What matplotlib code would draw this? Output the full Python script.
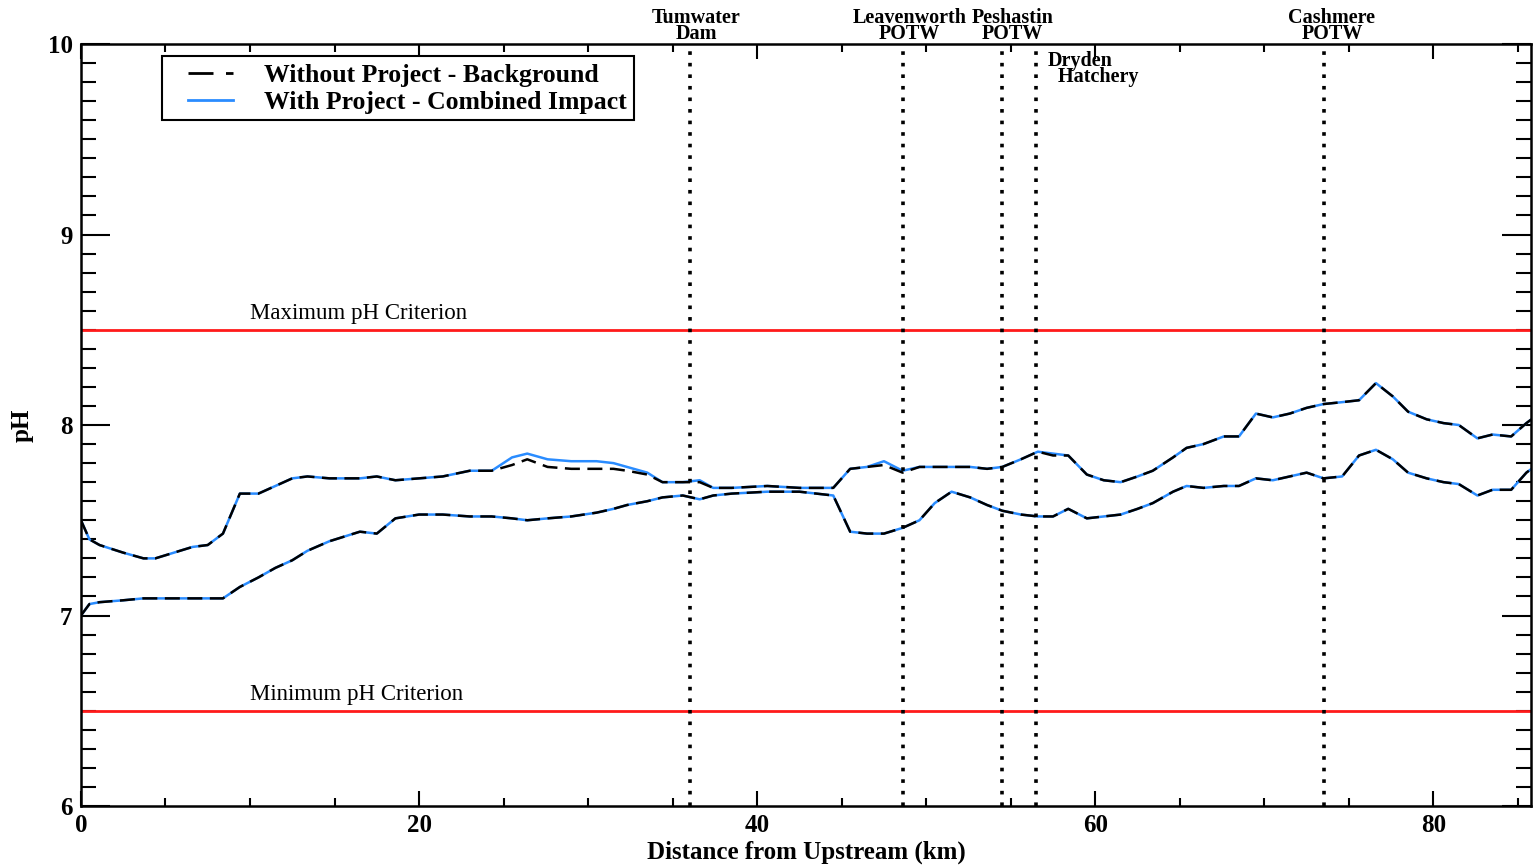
import matplotlib
matplotlib.use("Agg")
import matplotlib.pyplot as plt
from matplotlib.ticker import MultipleLocator
from matplotlib.lines import Line2D
from matplotlib.patches import Rectangle

plt.rcParams['font.family'] = ['Liberation Serif', 'DejaVu Serif']

# distance from upstream (km)
dist = [0, 0.5, 1.1, 2.5, 3.7, 4.4, 5.5, 6.6, 7.5, 8.4,
        9.4, 10.5, 11.5, 12.5, 13.4, 14.7, 16.5, 17.5, 18.6, 20.0,
        21.4, 23.0, 24.3, 25.5, 26.4, 27.6, 29.0, 30.5, 31.5, 32.3,
        33.5, 34.4, 35.6, 36.6, 37.4, 38.5, 40.6, 42.5, 44.5, 45.5,
        46.5, 47.5, 48.6, 49.6, 50.5, 51.5, 52.6, 53.6, 54.5, 55.6,
        56.6, 57.5, 58.4, 59.5, 60.5, 61.5, 62.5, 63.4, 64.6, 65.4,
        66.4, 67.6, 68.5, 69.5, 70.5, 71.5, 72.5, 73.5, 74.6, 75.6,
        76.6, 77.6, 78.5, 79.6, 80.6, 81.5, 82.6, 83.5, 84.6, 85.5,
        85.8]

proj_max = [7.50, 7.40, 7.37, 7.33, 7.30, 7.30, 7.33, 7.36, 7.37, 7.43,
            7.64, 7.64, 7.68, 7.72, 7.73, 7.72, 7.72, 7.73, 7.71, 7.72,
            7.73, 7.76, 7.76, 7.83, 7.85, 7.82, 7.81, 7.81, 7.80, 7.78,
            7.75, 7.70, 7.70, 7.71, 7.67, 7.67, 7.68, 7.67, 7.67, 7.77,
            7.78, 7.81, 7.76, 7.78, 7.78, 7.78, 7.78, 7.77, 7.78, 7.82,
            7.86, 7.85, 7.84, 7.74, 7.71, 7.70, 7.73, 7.76, 7.83, 7.88,
            7.90, 7.94, 7.94, 8.06, 8.04, 8.06, 8.09, 8.11, 8.12, 8.13,
            8.22, 8.15, 8.07, 8.03, 8.01, 8.00, 7.93, 7.95, 7.94, 8.01,
            8.03]

bg_max = [7.50, 7.40, 7.37, 7.33, 7.30, 7.30, 7.33, 7.36, 7.37, 7.43,
          7.64, 7.64, 7.68, 7.72, 7.73, 7.72, 7.72, 7.73, 7.71, 7.72,
          7.73, 7.76, 7.76, 7.79, 7.82, 7.78, 7.77, 7.77, 7.77, 7.76,
          7.74, 7.70, 7.70, 7.70, 7.67, 7.67, 7.68, 7.67, 7.67, 7.77,
          7.78, 7.79, 7.75, 7.78, 7.78, 7.78, 7.78, 7.77, 7.78, 7.82,
          7.86, 7.84, 7.84, 7.74, 7.71, 7.70, 7.73, 7.76, 7.83, 7.88,
          7.90, 7.94, 7.94, 8.06, 8.04, 8.06, 8.09, 8.11, 8.12, 8.13,
          8.22, 8.15, 8.07, 8.03, 8.01, 8.00, 7.93, 7.95, 7.94, 8.01,
          8.03]

proj_min = [7.00, 7.06, 7.07, 7.08, 7.09, 7.09, 7.09, 7.09, 7.09, 7.09,
            7.15, 7.20, 7.25, 7.29, 7.34, 7.39, 7.44, 7.43, 7.51, 7.53,
            7.53, 7.52, 7.52, 7.51, 7.50, 7.51, 7.52, 7.54, 7.56, 7.58,
            7.60, 7.62, 7.63, 7.61, 7.63, 7.64, 7.65, 7.65, 7.63, 7.44,
            7.43, 7.43, 7.46, 7.50, 7.59, 7.65, 7.62, 7.58, 7.55, 7.53,
            7.52, 7.52, 7.56, 7.51, 7.52, 7.53, 7.56, 7.59, 7.65, 7.68,
            7.67, 7.68, 7.68, 7.72, 7.71, 7.73, 7.75, 7.72, 7.73, 7.84,
            7.87, 7.82, 7.75, 7.72, 7.70, 7.69, 7.63, 7.66, 7.66, 7.75,
            7.77]

bg_min = list(proj_min)

max_crit = 8.5
min_crit = 6.5

site_x = [36.0, 48.6, 54.5, 56.5, 73.5]
site_names = ["Tumwater\nDam", "Leavenworth\nPOTW", "Peshastin\nPOTW", "Dryden\n  Hatchery", "Cashmere\nPOTW"]
label_x = [36.4, 49.0, 55.1, 57.2, 74.0]

series_labels = ["Without Project - Background", "With Project - Combined Impact"]

blue = '#2a8cff'

fig = plt.figure(figsize=(15.33, 8.68), dpi=100)
ax = fig.add_axes([0.0528, 0.0714, 0.9462, 0.8779])

ax.plot(dist, proj_max, color=blue, lw=1.8)
ax.plot(dist, proj_min, color=blue, lw=1.8)
ax.plot(dist, bg_max, color='black', lw=1.8, ls=(0, (6, 3)))
ax.plot(dist, bg_min, color='black', lw=1.8, ls=(0, (6, 3)))

ax.axhline(max_crit, color='#ff1a1a', lw=2)
ax.axhline(min_crit, color='#ff1a1a', lw=2)
ax.text(10, max_crit + 0.03, "Maximum pH Criterion", fontsize=16.5, ha='left', va='bottom')
ax.text(10, min_crit + 0.03, "Minimum pH Criterion", fontsize=16.5, ha='left', va='bottom')

for sx in site_x:
    ax.axvline(sx, color='black', lw=2.6, ls=(0, (1, 2.2)))

for name, lx in zip(site_names, label_x):
    if name.startswith("Dryden"):
        ax.text(lx, 9.965, name, fontsize=14.5, fontweight='bold', ha='left', va='top',
                linespacing=0.75)
    else:
        ax.text(lx, 1.0003, name, transform=ax.get_xaxis_transform(), fontsize=14.5,
                fontweight='bold', ha='center', va='bottom', linespacing=0.75, clip_on=False)

ax.set_xlim(0, 85.8)
ax.set_ylim(6, 10)
ax.xaxis.set_major_locator(MultipleLocator(20))
ax.xaxis.set_minor_locator(MultipleLocator(5))
ax.yaxis.set_major_locator(MultipleLocator(1))
ax.yaxis.set_minor_locator(MultipleLocator(0.1))
ax.tick_params(axis='both', which='both', direction='in', top=True, right=True, width=1.5, colors='black')
ax.tick_params(axis='y', which='major', length=21, labelsize=18, pad=6)
ax.tick_params(axis='y', which='minor', length=11)
ax.tick_params(axis='x', which='major', length=11, labelsize=18, pad=6)
ax.tick_params(axis='x', which='minor', length=6)
for lab in ax.get_xticklabels() + ax.get_yticklabels():
    lab.set_fontweight('bold')
for sp in ax.spines.values():
    sp.set_linewidth(1.8)

ax.set_xlabel("Distance from Upstream (km)", fontsize=18, fontweight='bold', labelpad=2)
ax.set_ylabel("pH", fontsize=18, fontweight='bold', labelpad=10)

# legend box
ax.add_patch(Rectangle((0.0559, 0.9003), 0.3255, 0.0840, transform=ax.transAxes,
                       facecolor='white', edgecolor='black', lw=1.5, zorder=5))
handles = [Line2D([], [], color='black', lw=2, ls=(0, (9, 4.5))),
           Line2D([], [], color=blue, lw=2)]
leg = ax.legend(handles, series_labels,
                loc='upper left', bbox_to_anchor=(0.0738, 0.9734), borderaxespad=0,
                frameon=False, prop={'size': 18.5, 'weight': 'bold'},
                handlelength=1.75, handletextpad=1.2, labelspacing=0.14, borderpad=0)
leg.set_zorder(6)

fig.savefig("out.png", dpi=100)
